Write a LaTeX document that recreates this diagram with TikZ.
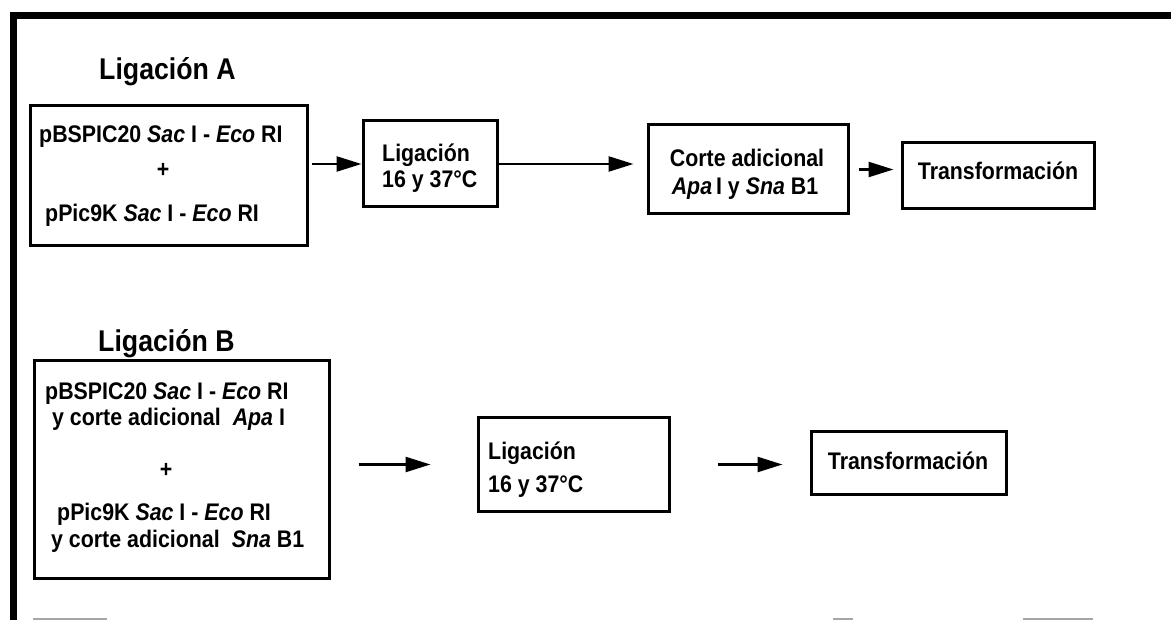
\documentclass[tikz,border=0pt]{standalone}
\usepackage{fontspec}
\setmainfont[FakeStretch=0.89]{Liberation Sans}
\usetikzlibrary{arrows.meta,calc}
\tikzset{
  box/.style={draw=black, line width=3pt, rectangle, inner sep=0pt, fill=white},
  txt/.style={inner sep=0pt, font=\fontsize{24}{28}\selectfont\bfseries},
  ttl/.style={inner sep=0pt, font=\fontsize{30}{35}\selectfont\bfseries},
  arr/.style={line width=2.5pt, -{Triangle[length=25pt,width=15pt]}},
  frame/.style={line width=7pt, black},
  ghost/.style={line width=2pt, black!35}
}
\begin{document}
\begin{tikzpicture}[x=1pt,y=-1pt]
\useasboundingbox (0,0) rectangle (1171,620);
% frame
\draw[frame] (10,15.5) -- (1171,15.5);
\draw[frame] (13.5,12) -- (13.5,620);
\draw[ghost] (33,618.5) -- (107,618.5);
\draw[ghost] (833,618.5) -- (853,618.5);
\draw[ghost] (1023,618.5) -- (1093,618.5);

% Ligacion A
\node[ttl, anchor=base west] (ta) at (99,80) {Ligación A};
\node[box, minimum width=277pt, minimum height=140pt] (a1) at (168.5,176) {};
\node[txt, anchor=base west] (a1l1) at (39,143) {pBSPIC20 {\itshape Sac} I - {\itshape Eco} RI};
\node[txt] (a1p) at (163,170) {+};
\node[txt, anchor=base west] (a1l2) at (45,222) {pPic9K {\itshape Sac} I - {\itshape Eco} RI};

\node[box, minimum width=134pt, minimum height=86pt] (a2) at (430,164) {};
\node[txt, anchor=base west] (a2l1) at (382,162) {Ligación};
\node[txt, anchor=base west] (a2l2) at (382,188) {16 y 37°C};

\node[box, minimum width=200pt, minimum height=89pt] (a3) at (748,169.5) {};
\node[txt, anchor=base] (a3l1) at (747,167) {Corte adicional};
\node[txt, anchor=base] (a3l2) at (745,195) {{\itshape Apa}\,I y {\itshape Sna} B1};

\node[box, minimum width=192pt, minimum height=66pt] (a4) at (998,176) {};
\node[txt, anchor=base] (a4l1) at (998,180) {Transformación};

\draw[arr, shorten <=3pt] (a1.east |- a2.west) -- (a2.west);
\draw[arr, shorten >=13pt] (a2.east) -- (a2.east -| a3.west);
\draw[arr, shorten <=9pt, shorten >=7pt] (a3.east) -- (a3.east -| a4.west);

% Ligacion B
\node[ttl, anchor=base west] (tb) at (98,352) {Ligación B};
\node[box, minimum width=295pt, minimum height=217pt] (b1) at (181.5,469.5) {};
\node[txt, anchor=base west] (b1l1) at (45,400) {pBSPIC20 {\itshape Sac} I - {\itshape Eco} RI};
\node[txt, anchor=base west] (b1l2) at (52,425) {y corte adicional\enspace{\itshape Apa} I};
\node[txt] (b1p) at (166,470) {+};
\node[txt, anchor=base west] (b1l3) at (57,520) {pPic9K {\itshape Sac} I - {\itshape Eco} RI};
\node[txt, anchor=base west] (b1l4) at (51,547) {y corte adicional\enspace{\itshape Sna} B1};

\node[box, minimum width=191pt, minimum height=93pt] (b2) at (573.5,464.5) {};
\node[txt, anchor=base west] (b2l1) at (488,460) {Ligación};
\node[txt, anchor=base west] (b2l2) at (488,493) {16 y 37°C};

\node[box, minimum width=195pt, minimum height=62pt] (b3) at (908.5,463) {};
\node[txt, anchor=base] (b3l1) at (908,470) {Transformación};

\draw[arr, shorten <=28pt, shorten >=46pt] (b2.west -| b1.east) -- (b2.west);
\draw[arr, shorten <=47pt, shorten >=27pt] (b2.east) -- (b2.east -| b3.west);
\end{tikzpicture}
\end{document}
